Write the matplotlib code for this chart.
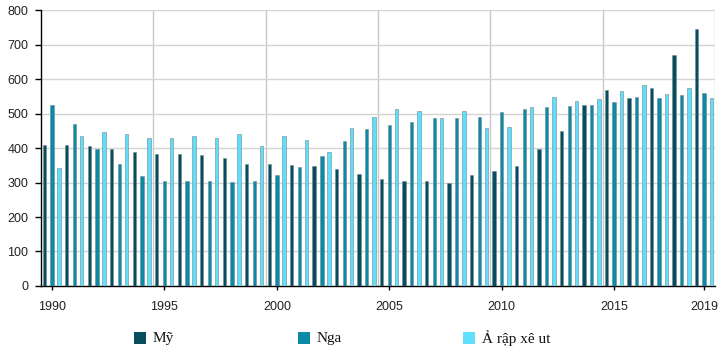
import numpy as np
import matplotlib.pyplot as plt
from matplotlib.patches import Rectangle

years = list(range(1990, 2020))

my = [410, 410, 405, 397, 388, 382, 382, 379, 370, 353,
      353, 350, 347, 339, 324, 310, 304, 304, 298, 321,
      333, 347, 397, 449, 524, 568, 545, 574, 669, 745]
nga = [524, 469, 397, 353, 318, 304, 304, 304, 301, 304,
       321, 344, 376, 420, 455, 466, 475, 487, 487, 490,
       504, 513, 519, 521, 524, 533, 548, 545, 553, 559]
arap = [341, 434, 446, 440, 428, 428, 434, 428, 440, 405,
        434, 423, 388, 458, 489, 513, 507, 487, 507, 458,
        460, 519, 548, 536, 542, 565, 582, 556, 574, 545]

series = [("Mỹ", my, "#064e5e", -0.34),
          ("Nga", nga, "#0a8aa6", 0.0),
          ("Ả rập xê ut", arap, "#5ee0fd", 0.32)]

xticks = [1990, 1995, 2000, 2005, 2010, 2015, 2019]

fig = plt.figure(figsize=(7.27, 3.53), dpi=100)
ax = fig.add_axes([0.056, 0.19, 0.928, 0.781])

x = np.array(years)
for name, vals, color, off in series:
    ax.bar(x + off, vals, width=0.15, color=color,
           edgecolor=(0.45, 0.55, 0.58, 0.7), linewidth=0.6, zorder=3)

ax.set_xlim(1989.5, 2019.5)
ax.set_ylim(0, 800)
ax.set_yticks(range(0, 801, 100))
ax.set_xticks(xticks)
ax.set_xticks(np.arange(1994.5, 2020, 5), minor=True)
ax.grid(axis='y', color='#d4d4d4', linewidth=1, zorder=0)
ax.grid(axis='x', which='minor', color='#c8c8c8', linewidth=1, zorder=0)
ax.tick_params(axis='x', which='minor', length=0)
ax.tick_params(axis='x', which='major', length=3, width=1, pad=8,
               labelsize=9, labelcolor='#222222')
ax.tick_params(axis='y', length=4.5, width=1, pad=4.5,
               labelsize=9, labelcolor='#222222')
for lab in ax.get_xticklabels() + ax.get_yticklabels():
    lab.set_family('Liberation Sans')

for side in ['top', 'right']:
    ax.spines[side].set_visible(False)
for side in ['left', 'bottom']:
    ax.spines[side].set_color('black')
    ax.spines[side].set_linewidth(1)

# legend under the plot, laid out like the original
W, H = 727, 353
leg_x = [134, 298, 463]
for (name, vals, color, off), lx in zip(series, leg_x):
    fig.add_artist(Rectangle((lx / W, (H - 344) / H), 12 / W, 12 / H,
                             facecolor=color, edgecolor='none',
                             transform=fig.transFigure))
    fig.text((lx + 19) / W, (H - 338.5) / H, name, family='Liberation Serif',
             fontsize=11, va='center', ha='left', color='#111111')

fig.savefig('out.png', dpi=100)
